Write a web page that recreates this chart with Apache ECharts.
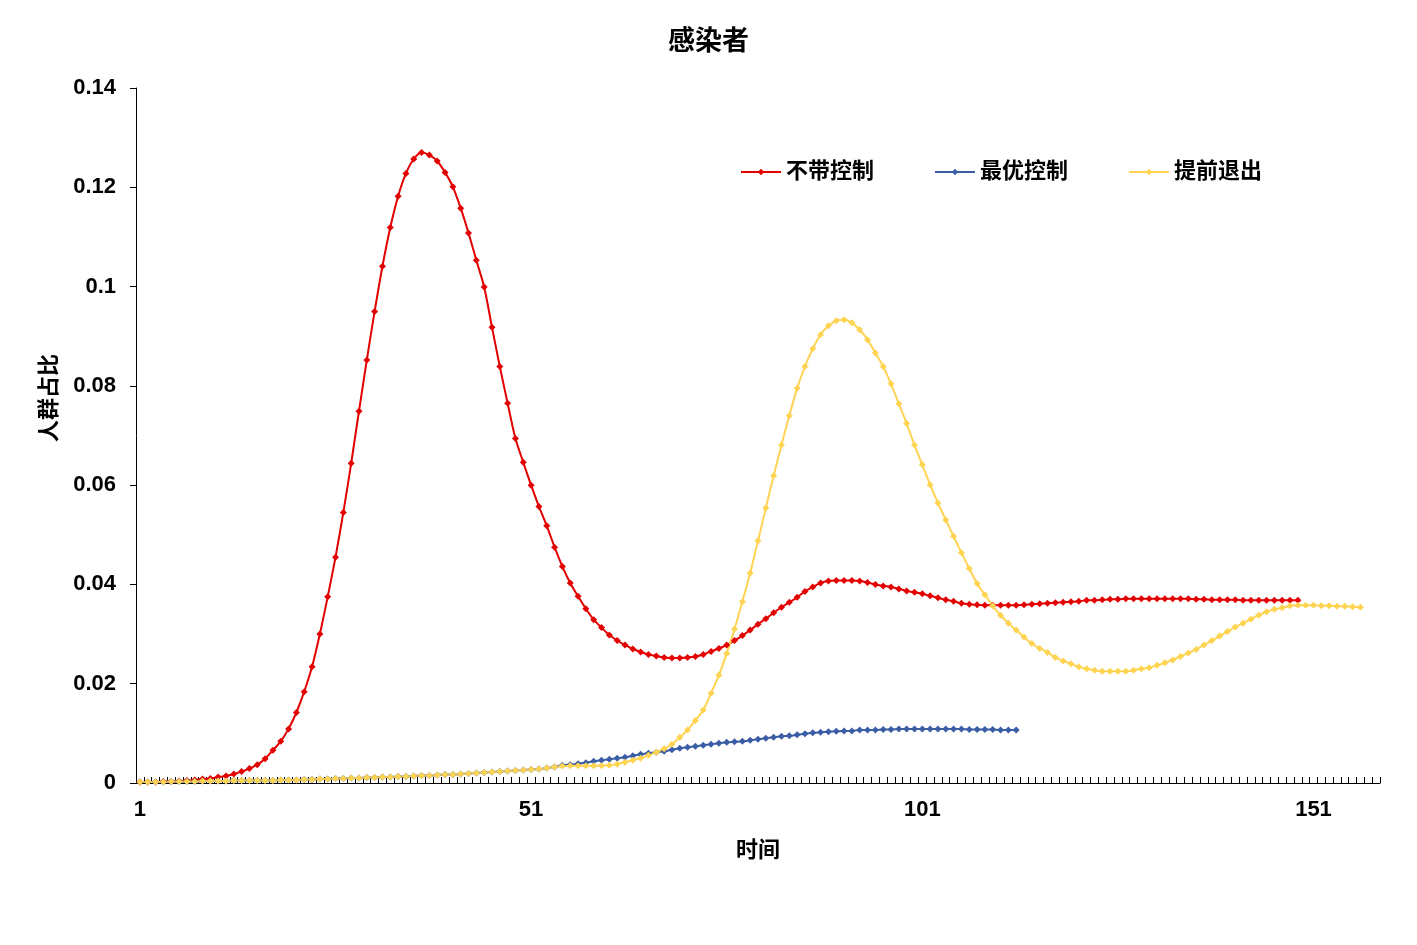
<!DOCTYPE html>
<html>
<head>
<meta charset="utf-8">
<title>感染者</title>
<script src="https://cdn.jsdelivr.net/npm/echarts@6/dist/echarts.min.js"></script>
<style>
  html, body { margin: 0; padding: 0; background: #fff; }
  #chart { width: 1417px; height: 945px; }
</style>
</head>
<body>
<div id="chart"></div>
<script>
// 时间 1..159
var days = []
for (var d = 1; d <= 159; d++) days.push(String(d))

var seriesNames = ['不带控制', '最优控制', '提前退出']

// 不带控制
var noControl = [
  0.0002, 0.0002, 0.0002, 0.0003, 0.0003, 0.0004, 0.0005, 0.0006, 0.0008, 0.0009,
  0.0012, 0.0014, 0.0018, 0.0023, 0.0029, 0.0037, 0.0049, 0.0066, 0.0084, 0.0109,
  0.0142, 0.0184, 0.0234, 0.0300, 0.0375, 0.0455, 0.0545, 0.0644, 0.0749, 0.0852,
  0.0950, 0.1041, 0.1119, 0.1182, 0.1228, 0.1257, 0.1270, 0.1265, 0.1253, 0.1230,
  0.1201, 0.1158, 0.1108, 0.1053, 0.0999, 0.0918, 0.0839, 0.0765, 0.0694, 0.0646,
  0.0600, 0.0557, 0.0518, 0.0475, 0.0436, 0.0403, 0.0376, 0.0351, 0.0329, 0.0313,
  0.0298, 0.0287, 0.0278, 0.0270, 0.0264, 0.0259, 0.0256, 0.0253, 0.0252, 0.0252,
  0.0253, 0.0255, 0.0259, 0.0265, 0.0271, 0.0278, 0.0287, 0.0297, 0.0308, 0.0320,
  0.0331, 0.0343, 0.0354, 0.0364, 0.0374, 0.0386, 0.0395, 0.0403, 0.0407, 0.0408,
  0.0408, 0.0408, 0.0407, 0.0404, 0.0400, 0.0397, 0.0395, 0.0391, 0.0387, 0.0384,
  0.0381, 0.0377, 0.0373, 0.0369, 0.0366, 0.0362, 0.0360, 0.0359, 0.0358, 0.0358,
  0.0358, 0.0358, 0.0358, 0.0359, 0.0360, 0.0361, 0.0362, 0.0363, 0.0364, 0.0365,
  0.0366, 0.0368, 0.0368, 0.0369, 0.0370, 0.0370, 0.0371, 0.0371, 0.0371, 0.0371,
  0.0371, 0.0371, 0.0371, 0.0371, 0.0371, 0.0370, 0.0370, 0.0369, 0.0369, 0.0369,
  0.0369, 0.0368, 0.0368, 0.0368, 0.0368, 0.0368, 0.0368, 0.0368, 0.0368
]

// 最优控制
var optimal = [
  0.0002, 0.0002, 0.0002, 0.0002, 0.0003, 0.0003, 0.0003, 0.0003, 0.0004, 0.0004,
  0.0004, 0.0004, 0.0005, 0.0005, 0.0005, 0.0005, 0.0005, 0.0005, 0.0006, 0.0006,
  0.0006, 0.0007, 0.0007, 0.0008, 0.0008, 0.0009, 0.0009, 0.0010, 0.0010, 0.0011,
  0.0011, 0.0012, 0.0012, 0.0013, 0.0013, 0.0014, 0.0015, 0.0015, 0.0016, 0.0017,
  0.0017, 0.0018, 0.0019, 0.0020, 0.0021, 0.0022, 0.0023, 0.0024, 0.0025, 0.0026,
  0.0027, 0.0028, 0.0030, 0.0032, 0.0036, 0.0037, 0.0039, 0.0041, 0.0044, 0.0046,
  0.0048, 0.0050, 0.0052, 0.0055, 0.0058, 0.0060, 0.0062, 0.0064, 0.0067, 0.0070,
  0.0072, 0.0074, 0.0076, 0.0078, 0.0080, 0.0082, 0.0083, 0.0084, 0.0086, 0.0088,
  0.0090, 0.0092, 0.0094, 0.0095, 0.0097, 0.0099, 0.0101, 0.0102, 0.0103, 0.0104,
  0.0105, 0.0105, 0.0107, 0.0107, 0.0107, 0.0108, 0.0108, 0.0109, 0.0109, 0.0109,
  0.0109, 0.0109, 0.0109, 0.0109, 0.0109, 0.0109, 0.0108, 0.0108, 0.0108, 0.0108,
  0.0107, 0.0107, 0.0107
]

// 提前退出
var earlyExit = [
  0.0002, 0.0002, 0.0002, 0.0002, 0.0003, 0.0003, 0.0003, 0.0003, 0.0004, 0.0004,
  0.0004, 0.0004, 0.0005, 0.0005, 0.0005, 0.0005, 0.0005, 0.0005, 0.0006, 0.0006,
  0.0006, 0.0007, 0.0007, 0.0008, 0.0008, 0.0009, 0.0009, 0.0010, 0.0010, 0.0011,
  0.0011, 0.0012, 0.0012, 0.0013, 0.0013, 0.0014, 0.0015, 0.0015, 0.0016, 0.0017,
  0.0017, 0.0018, 0.0019, 0.0020, 0.0021, 0.0022, 0.0023, 0.0024, 0.0025, 0.0026,
  0.0027, 0.0028, 0.0030, 0.0032, 0.0034, 0.0035, 0.0035, 0.0035, 0.0035, 0.0035,
  0.0036, 0.0038, 0.0042, 0.0046, 0.0050, 0.0056, 0.0062, 0.0069, 0.0078, 0.0092,
  0.0107, 0.0126, 0.0147, 0.0181, 0.0217, 0.0261, 0.0310, 0.0365, 0.0423, 0.0488,
  0.0554, 0.0619, 0.0681, 0.0740, 0.0795, 0.0839, 0.0875, 0.0903, 0.0921, 0.0931,
  0.0933, 0.0927, 0.0913, 0.0893, 0.0866, 0.0839, 0.0804, 0.0764, 0.0724, 0.0681,
  0.0641, 0.0601, 0.0564, 0.0530, 0.0497, 0.0464, 0.0432, 0.0402, 0.0379, 0.0357,
  0.0338, 0.0322, 0.0308, 0.0294, 0.0281, 0.0271, 0.0263, 0.0253, 0.0246, 0.0240,
  0.0234, 0.0230, 0.0227, 0.0225, 0.0225, 0.0225, 0.0225, 0.0227, 0.0230, 0.0232,
  0.0237, 0.0242, 0.0248, 0.0255, 0.0262, 0.0269, 0.0278, 0.0287, 0.0296, 0.0305,
  0.0314, 0.0322, 0.0330, 0.0338, 0.0345, 0.0350, 0.0353, 0.0357, 0.0358, 0.0358,
  0.0358, 0.0357, 0.0357, 0.0356, 0.0356, 0.0355, 0.0354
]

var colors = ['#E30000', '#3A5DA5', '#FFD452']
var font = '"Liberation Sans", Arial, "Noto Sans CJK SC", sans-serif'
var boldText = { fontFamily: font, fontSize: 22, fontWeight: 'bold', color: '#000' }

function lineSeries (name, data, color, width) {
  return {
    name: name,
    type: 'line',
    data: data,
    smooth: 0.3,
    symbol: 'diamond',
    symbolSize: 7,
    showSymbol: true,
    showAllSymbol: true,
    itemStyle: { color: color },
    lineStyle: { color: color, width: width }
  }
}

var chart = echarts.init(document.getElementById('chart'))
var option = {
  backgroundColor: '#fff',
  animation: false,
  textStyle: { fontFamily: font },
  title: {
    text: '感染者',
    left: 'center',
    top: 24,
    textStyle: { fontFamily: font, fontSize: 27, fontWeight: 'bold', color: '#000' }
  },
  legend: {
    data: seriesNames,
    left: 735,
    top: 156,
    itemWidth: 40,
    itemHeight: 8,
    itemGap: 60,
    textStyle: boldText
  },
  // y 轴标题（略偏上）
  graphic: [{
    type: 'text',
    x: 50,
    y: 398,
    rotation: Math.PI / 2,
    style: {
      text: '人群占比',
      font: 'bold 22px ' + font,
      fill: '#000',
      align: 'center',
      verticalAlign: 'middle'
    }
  }],
  grid: {
    left: 136,
    right: 37,
    top: 88,
    bottom: 162
  },
  xAxis: {
    type: 'category',
    data: days,
    boundaryGap: true,
    name: '时间',
    nameLocation: 'middle',
    nameGap: 57,
    nameTextStyle: boldText,
    axisLine: { lineStyle: { color: '#000', width: 1 } },
    axisTick: { show: true, interval: 0, inside: true, length: 6, lineStyle: { color: '#000' } },
    axisLabel: {
      interval: 49,
      margin: 16,
      fontFamily: font,
      fontSize: 22,
      fontWeight: 'bold',
      color: '#000'
    },
    splitLine: { show: false }
  },
  yAxis: {
    type: 'value',
    min: 0,
    max: 0.14,
    interval: 0.02,
    axisLine: { show: true, lineStyle: { color: '#000', width: 1 } },
    axisTick: { show: true, length: 6, lineStyle: { color: '#000' } },
    axisLabel: {
      margin: 20,
      fontFamily: font,
      fontSize: 22,
      fontWeight: 'bold',
      color: '#000'
    },
    splitLine: { show: false }
  },
  series: [
    lineSeries(seriesNames[0], noControl, colors[0], 2),
    lineSeries(seriesNames[1], optimal, colors[1], 2),
    lineSeries(seriesNames[2], earlyExit, colors[2], 2)
  ]
}
chart.setOption(option)
</script>
</body>
</html>
